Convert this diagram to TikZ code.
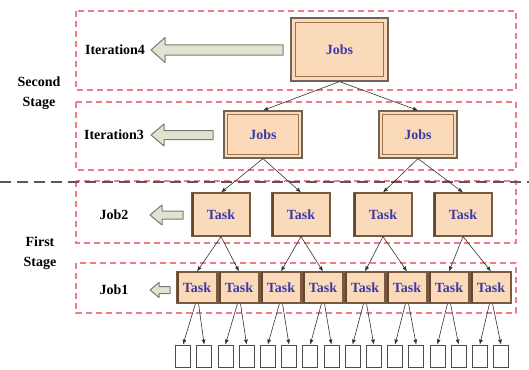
\documentclass[tikz,border=0pt]{standalone}
\usepackage{fontspec}
\setmainfont{Liberation Serif}
\usetikzlibrary{arrows.meta}
\definecolor{peach}{HTML}{FBDABA}
\definecolor{boxedge}{HTML}{6F6455}
\definecolor{inneredge}{HTML}{A0724C}
\definecolor{taskedge}{HTML}{7A5A3E}
\definecolor{labelblue}{HTML}{3B3BA6}
\definecolor{framered}{HTML}{EE7F88}
\definecolor{arrowfill}{HTML}{E0E3D0}
\definecolor{arrowedge}{HTML}{7A7B6E}
\tikzset{
  stageframe/.style={draw=framered, line width=1.2pt, dash pattern=on 6pt off 4pt},
  divider/.style={draw=black!65, line width=1.5pt, dash pattern=on 11pt off 6pt},
  boxtext/.style={font=\fontsize{14}{16}\selectfont\bfseries, text=labelblue},
  jobsbox/.style={rectangle, inner sep=0pt, fill=peach, draw=boxedge, line width=1.2pt, boxtext},
  innerframe/.style={draw=inneredge, line width=1.4pt},
  taskbox/.style={rectangle, inner sep=0pt, fill=peach, draw=taskedge, line width=1.1pt, boxtext},
  bevel/.style={draw=taskedge!80!black, line width=1.2pt},
  leafbox/.style={rectangle, inner sep=0pt, draw=black!70, fill=white, line width=0.8pt,
    minimum width=15, minimum height=22},
  sidelabel/.style={font=\fontsize{14}{16}\selectfont\bfseries, text=black},
  stagelabel/.style={font=\fontsize{14}{20}\selectfont\bfseries, align=center},
  link/.style={draw=black!80, line width=0.6pt, -{Latex[length=5pt,width=4pt]}},
  blockarrow/.style={draw=arrowedge, fill=arrowfill, line width=1pt, line join=round},
  pics/hollowarrow/.style args={#1/#2/#3/#4}{code={
    \path[blockarrow] (0,0) -- (#3,-#2) -- (#3,-#4) -- (#1,-#4) -- (#1,#4) -- (#3,#4) -- (#3,#2) -- cycle;
  }}
}
\begin{document}
\begin{tikzpicture}[x=1pt,y=-1pt]
\useasboundingbox (0,0) rectangle (529,369);
\fill[white] (0,0) rectangle (529,369);

% dashed frames of the four levels
\foreach \t/\b in {11/90, 102/170, 181/243, 263/313}
  \draw[stageframe] (76,\t) rectangle (516,\b);

% border between the two stages
\draw[divider] (0,182) -- (529,182);

% stage names
\node[stagelabel] (second) at (39,93) {Second\\Stage};
\node[stagelabel] (first) at (40,253) {First\\Stage};

% level names
\node[sidelabel] (it4) at (115,50) {Iteration4};
\node[sidelabel] (it3) at (114,135) {Iteration3};
\node[sidelabel] (job2) at (114,215) {Job2};
\node[sidelabel] (job1) at (114,290) {Job1};

% hollow arrows: length / head half-width / head length / shaft half-width
\pic at (151,50) {hollowarrow={132/12.5/14/5}};
\pic at (151,135) {hollowarrow={62/11/13/4.5}};
\pic at (150,215) {hollowarrow={33/10/12/4}};
\pic at (150,290) {hollowarrow={20/7.5/9/3.5}};

% second stage: jobs
\node[jobsbox, minimum width=97, minimum height=63] (J4) at (339.5,49.5) {Jobs};
\node[jobsbox, minimum width=78, minimum height=47] (J3a) at (263,134.5) {Jobs};
\node[jobsbox, minimum width=78, minimum height=47] (J3b) at (418,134.5) {Jobs};
\draw[innerframe] ([shift={(5,5)}]J4.north west) rectangle ([shift={(-5,-5)}]J4.south east);
\foreach \n in {J3a,J3b}
  \draw[innerframe] ([shift={(4,4)}]\n.north west) rectangle ([shift={(-4,-4)}]\n.south east);

% first stage: tasks of Job2
\foreach \x [count=\i] in {221,301,383,463}
  \node[taskbox, minimum width=58, minimum height=43] (B\i) at (\x,214.5) {Task};

% first stage: tasks of Job1
\foreach \i in {1,...,8}
  \node[taskbox, minimum width=40, minimum height=31] (A\i) at ({197+42*(\i-1)},287.5) {Task};

% bevel on the left edge of every task box
\foreach \n in {B1,B2,B3,B4,A1,A2,A3,A4,A5,A6,A7,A8}
  \draw[bevel] ([shift={(1.6,0.5)}]\n.north west) -- ([shift={(1.6,-0.5)}]\n.south west);

% input splits
\foreach \j in {1,...,16}
  \node[leafbox] (L\j) at ({183+21.2*(\j-1)},356) {};

% connectors
\draw[link] (J4.south) -- (J3a.north);
\draw[link] (J4.south) -- (J3b.north);
\draw[link] (J3a.south) -- (B1.north);
\draw[link] (J3a.south) -- (B2.north);
\draw[link] (J3b.south) -- (B3.north);
\draw[link] (J3b.south) -- (B4.north);
\foreach \p/\c in {1/1,1/2,2/3,2/4,3/5,3/6,4/7,4/8}
  \draw[link] (B\p.south) -- (A\c.north);
\foreach \p in {1,...,8}{
  \pgfmathtruncatemacro{\l}{2*\p-1}
  \pgfmathtruncatemacro{\r}{2*\p}
  \draw[link] ([xshift=-1.5]A\p.south) -- (L\l.north);
  \draw[link] ([xshift=1.5]A\p.south) -- (L\r.north);
}
\end{tikzpicture}
\end{document}
